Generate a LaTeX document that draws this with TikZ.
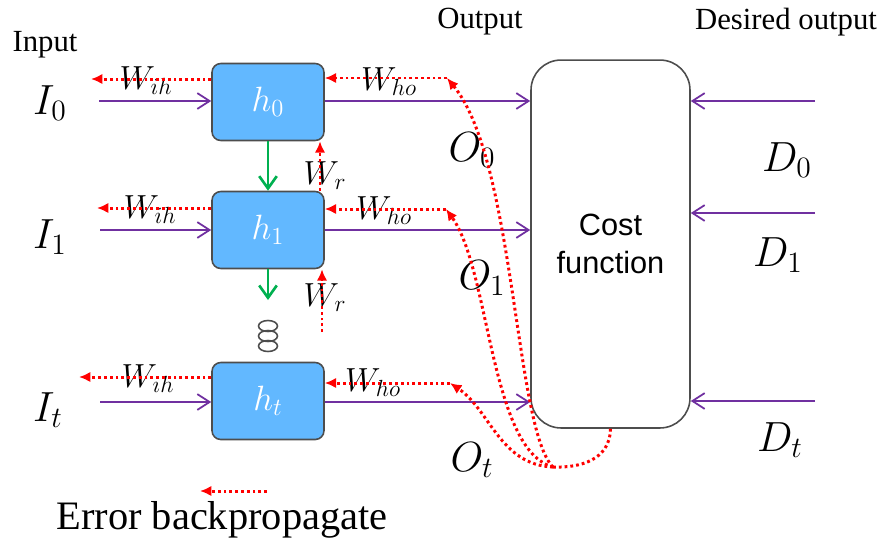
\RequirePackage{fix-cm}
\documentclass[tikz,border=0pt]{standalone}
\usepackage{fontspec}
\setmainfont{Liberation Serif}
\newfontfamily\costfont{Liberation Sans}
\usetikzlibrary{arrows.meta}
\definecolor{cellblue}{HTML}{62B8FF}
\definecolor{cellrim}{HTML}{4D4D4D}
\definecolor{flow}{HTML}{7030A0}
\definecolor{recur}{HTML}{00B050}
\definecolor{errred}{HTML}{FF0000}

\begin{document}
\begin{tikzpicture}[x=0.02cm,y=-0.02cm,
  cell/.style={draw=cellrim,line width=0.9pt,fill=cellblue,rounded corners=5pt,minimum width=2.24cm,minimum height=1.54cm,text=white,font=\fontsize{20}{22}\selectfont},
  costbox/.style={draw=cellrim,line width=0.9pt,rounded corners=0.6cm,minimum width=3.18cm,minimum height=7.36cm,align=center,font=\costfont\fontsize{17.5}{21.5}\selectfont},
  var/.style={font=\fontsize{24}{26}\selectfont},
  wt/.style={font=\fontsize{19}{21}\selectfont},
  head/.style={font=\fontsize{17.5}{20}\selectfont},
  fwd/.style={flow,line width=1pt,-{Straight Barb[length=7pt,width=9pt]}},
  rec/.style={recur,line width=1.5pt,-{Straight Barb[length=7pt,width=10pt]}},
  err/.style={errred,line width=1.7pt,dash pattern=on 1.6pt off 1.7pt},
  errarr/.style={err,-{Latex[length=6.5pt,width=6pt]}}]
\useasboundingbox (0,0) rectangle (885,542);

\node[head] (inhead) at (45,45) {Input};
\node[head] (outhead) at (480,22) {Output};
\node[head] (deshead) at (786,22) {Desired output};

\node[cell] (h0) at (268,102) {$h_0$};
\node[cell] (h1) at (268,230) {$h_1$};
\node[cell] (ht) at (268,401) {$h_t$};
\node[costbox] (cost) at (610.5,244) {Cost\\function};

\node[var] (i0) at (50,103) {$I_0$};
\node[var] (i1) at (50,237) {$I_1$};
\node[var] (it) at (48,410) {$I_t$};
\node[var] (o0) at (472,150) {$O_0$};
\node[var] (o1) at (482,278) {$O_1$};
\node[var] (ot) at (472,460) {$O_t$};
\node[var] (d0) at (787,160) {$D_0$};
\node[var] (d1) at (778,255) {$D_1$};
\node[var] (dt) at (780,440) {$D_t$};

\node[wt] (wih0) at (146,81) {$W_{ih}$};
\node[wt] (wih1) at (150,210) {$W_{ih}$};
\node[wt] (wiht) at (148,379) {$W_{ih}$};
\node[wt] (who0) at (389,82) {$W_{ho}$};
\node[wt] (who1) at (384,211) {$W_{ho}$};
\node[wt] (whot) at (373,383) {$W_{ho}$};
\node[wt] (wr0) at (325,176) {$W_r$};
\node[wt] (wr1) at (325,298) {$W_r$};

\coordinate (s0) at (99,101);
\coordinate (s1) at (100,230);
\coordinate (st) at (100,402);
\draw[fwd] (s0) -- (s0 -| h0.west);
\draw[fwd] (s1) -- (s1 -| h1.west);
\draw[fwd] (st) -- (st -| ht.west);
\draw[fwd] (s0 -| h0.east) -- (s0 -| cost.west);
\draw[fwd] (s1 -| h1.east) -- (s1 -| cost.west);
\draw[fwd] (st -| ht.east) -- (st -| cost.west);

\coordinate (q0) at (815,101);
\coordinate (q1) at (815,213);
\coordinate (qt) at (815,401);
\draw[fwd] (q0) -- (q0 -| cost.east);
\draw[fwd] (q1) -- (q1 -| cost.east);
\draw[fwd] (qt) -- (qt -| cost.east);

\coordinate (g1) at (268,300);
\draw[rec] (h0.south) -- (h1.north);
\draw[rec] (h1.south) -- (g1);
\foreach \y in {326,336,346}
  \draw[cellrim,line width=0.9pt] (268,\y) ellipse [x radius=0.19cm,y radius=0.11cm];

\coordinate (b0) at (91,79);
\coordinate (b1) at (97,208);
\coordinate (bt) at (79,377);
\draw[errarr] (b0 -| h0.west) -- (b0);
\draw[errarr] (b1 -| h1.west) -- (b1);
\draw[errarr] (bt -| ht.west) -- (bt);

\coordinate (c0) at (447,78);
\coordinate (c1) at (446,209);
\coordinate (ct) at (450,383);
\draw[errarr] (c0) -- (c0 -| h0.east);
\draw[errarr] (c1) -- (c1 -| h1.east);
\draw[errarr] (ct) -- (ct -| ht.east);

\coordinate (m) at (553,467);
\draw[err] (cost.south) .. controls (610,460) and (580,468) .. (m);
\draw[errarr] (m) .. controls (515,430) and (515,160) .. (c0);
\draw[errarr] (m) .. controls (490,450) and (490,270) .. (c1);
\draw[errarr] (m) .. controls (500,465) and (490,410) .. (ct);

\coordinate (r0) at (320,0);
\coordinate (r1) at (322,332);
\draw[errarr] (r0 |- h1.north) -- (r0 |- h0.south);
\draw[errarr] (r1) -- (r1 |- h1.south);

\coordinate (lg) at (267,491);
\coordinate (lgt) at (200,491);
\draw[errarr] (lg) -- (lgt);
\node[font=\fontsize{23}{26}\selectfont] (legend) at (222,520) {Error backpropagate};
\end{tikzpicture}
\end{document}
